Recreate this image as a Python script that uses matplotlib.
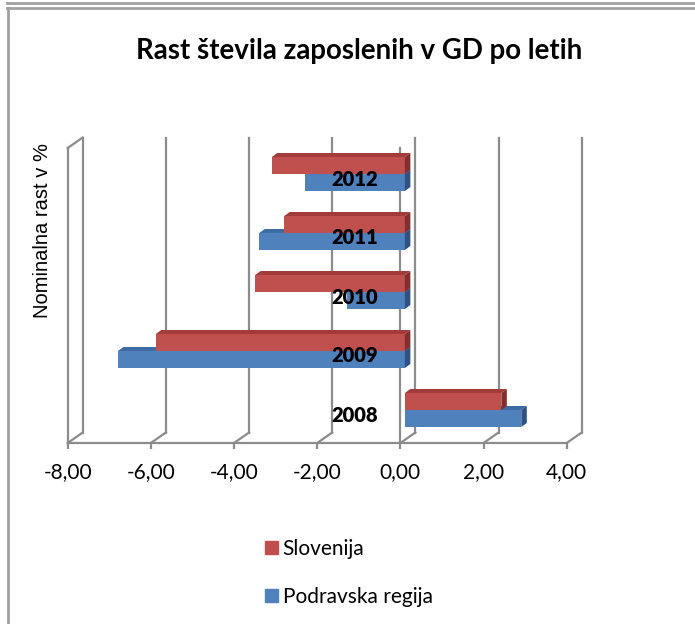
import matplotlib
matplotlib.use('Agg')
import matplotlib.pyplot as plt
from matplotlib.lines import Line2D
from matplotlib.patches import Polygon
from matplotlib.ticker import FuncFormatter

years = ['2008', '2009', '2010', '2011', '2012']
slovenija = [2.32, -5.99, -3.60, -2.90, -3.20]
podravska = [2.80, -6.90, -1.40, -3.50, -2.40]
x_ticks = [-8, -6, -4, -2, 0, 2, 4]

RED = '#C0504D'
RED_TOP = '#A13C3A'
RED_END = '#82302E'
BLUE = '#4F81BD'
BLUE_TOP = '#3D6BA3'
BLUE_END = '#2E5283'
GRID = '#8C8C8C'
CAL = ['Lato', 'DejaVu Sans']

W, H = 695, 624
fig = plt.figure(figsize=(W / 100, H / 100), dpi=100)

# front plane of the pseudo-3D box in pixels
left_px, right_px, top_px, bot_px = 67.7, 566.7, 148, 443
ax = fig.add_axes([left_px / W, (H - bot_px) / H,
                   (right_px - left_px) / W, (bot_px - top_px) / H])
ax.set_xlim(-8, 4)
ax.set_ylim(-0.5, 4.5)
ax.patch.set_visible(False)

# pixel -> data units
sx = 12 / (right_px - left_px)
sy = 5 / (bot_px - top_px)
BX, BY = 15 * sx, 10.5 * sy     # back wall offset
PX, PY = 4.5 * sx, 3.5 * sy     # plane of the bars
EX, EY = 5.5 * sx, 4 * sy       # depth of a bar
BAR_H = 17 * sy

lw = 1.6
y0, y1 = -0.5, 4.5
for t in x_ticks:
    ax.plot([t + BX, t + BX], [y0 + BY, y1 + BY], color=GRID, lw=lw, zorder=1, clip_on=False)
    ax.plot([t, t + BX], [y0, y0 + BY], color=GRID, lw=lw, zorder=1, clip_on=False)
# left wall
ax.plot([-8, -8], [y0, y1], color=GRID, lw=lw, zorder=1, clip_on=False)
ax.plot([-8, -8 + BX], [y1, y1 + BY], color=GRID, lw=lw, zorder=1, clip_on=False)


def bar3d(y_bottom, value, front, top, end):
    x0, x1 = sorted([PX, PX + value])
    yb, yt = y_bottom, y_bottom + BAR_H
    ax.barh(yb, value, height=BAR_H, left=PX, align='edge', color=front,
            zorder=4, linewidth=0)
    ax.add_patch(Polygon([(x0, yt), (x1, yt), (x1 + EX, yt + EY), (x0 + EX, yt + EY)],
                         closed=True, facecolor=top, lw=0, zorder=4))
    ax.add_patch(Polygon([(x1, yb), (x1, yt), (x1 + EX, yt + EY), (x1 + EX, yb + EY)],
                         closed=True, facecolor=end, lw=0, zorder=4))


for i in range(len(years)):
    c = i + PY
    bar3d(c - BAR_H, podravska[i], BLUE, BLUE_TOP, BLUE_END)
    bar3d(c, slovenija[i], RED, RED_TOP, RED_END)

# axes lines
for s in ['top', 'right']:
    ax.spines[s].set_visible(False)
ax.spines['left'].set_position(('data', 0))
for s in ['left', 'bottom']:
    ax.spines[s].set_color(GRID)
    ax.spines[s].set_linewidth(lw)
    ax.spines[s].set_zorder(2)

ax.set_xticks(x_ticks)
ax.xaxis.set_major_formatter(FuncFormatter(lambda v, p: '{:.2f}'.format(v).replace('.', ',')))
ax.tick_params(axis='x', direction='out', length=4.5, width=lw, color=GRID, pad=9)
for lab in ax.get_xticklabels():
    lab.set_family(CAL)
    lab.set_fontsize(15)

ax.set_yticks(range(len(years)))
ax.set_yticklabels(years)
ax.tick_params(axis='y', length=0, pad=16)
ax.yaxis.set_zorder(6)
for lab in ax.get_yticklabels():
    lab.set_family(CAL)
    lab.set_fontsize(14.5)
    lab.set_fontweight('heavy')

fig.text(359.5 / W, 1 - 59.3 / H, 'Rast števila zaposlenih v GD po letih',
         ha='center', va='baseline', fontsize=19.9, fontweight='bold', family=CAL)
fig.text(43 / W, 1 - 230 / H, 'Nominalna rast v %', rotation=90,
         ha='center', va='center', fontsize=14.5, family='Liberation Sans')

handles = [plt.Rectangle((0, 0), 1, 1, color=RED), plt.Rectangle((0, 0), 1, 1, color=BLUE)]
fig.legend(handles, ['Slovenija', 'Podravska regija'], loc='upper left',
           bbox_to_anchor=(265 / W, 1 - 539 / H), frameon=False, borderpad=0,
           borderaxespad=0, handlelength=0.6, handleheight=0.6, handletextpad=0.25,
           labelspacing=1.33, prop={'family': CAL, 'size': 15})

# chart frame
frame = dict(color='#A0A0A0', lw=2, transform=fig.transFigure)
fig.add_artist(Line2D([7 / W, 1], [1 - 2.5 / H, 1 - 2.5 / H], **frame))
fig.add_artist(Line2D([7 / W, 1], [1 - 8 / H, 1 - 8 / H], **frame))
fig.add_artist(Line2D([7.5 / W, 7.5 / W], [0, 1 - 8 / H], **frame))

fig.savefig('out.png', dpi=100)
